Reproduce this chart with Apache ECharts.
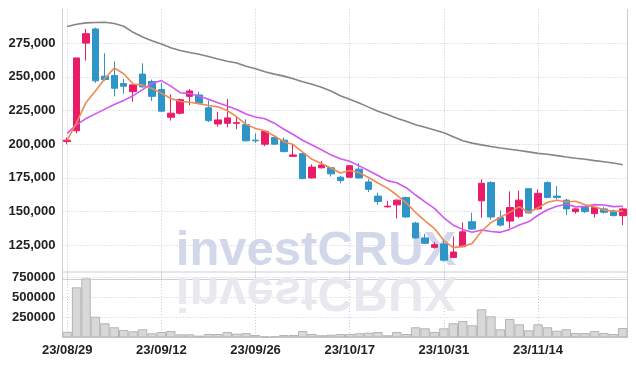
<!DOCTYPE html>
<html><head><meta charset="utf-8">
<script src="https://cdn.jsdelivr.net/npm/echarts@6/dist/echarts.min.js"></script>
<style>html,body{margin:0;padding:0;background:#fff}#c{width:636px;height:366px}</style>
</head><body><div id="c"></div>
<script>
const dates = ['23/08/29','23/08/30','23/08/31','23/09/01','23/09/04','23/09/05','23/09/06','23/09/07','23/09/08','23/09/11',
'23/09/12','23/09/13','23/09/14','23/09/15','23/09/18','23/09/19','23/09/20','23/09/21','23/09/22','23/09/25',
'23/09/26','23/09/27','23/10/04','23/10/05','23/10/06','23/10/10','23/10/11','23/10/12','23/10/13','23/10/16',
'23/10/17','23/10/18','23/10/19','23/10/20','23/10/23','23/10/24','23/10/25','23/10/26','23/10/27','23/10/30',
'23/10/31','23/11/01','23/11/02','23/11/03','23/11/06','23/11/07','23/11/08','23/11/09','23/11/10','23/11/13',
'23/11/14','23/11/15','23/11/16','23/11/17','23/11/20','23/11/21','23/11/22','23/11/23','23/11/24','23/11/27'];
const opens = [202000,210000,275000,285500,250500,251000,245000,239000,252000,246500,
240500,220000,223000,235500,236500,227000,215000,215500,215500,214500,
203000,200000,205000,203000,191000,193000,175000,182500,182500,175500,
175500,181500,172000,161500,153500,155000,160500,141500,130500,123500,
126000,116000,124000,142500,158000,171500,145500,143000,146500,167000,
152000,171500,161500,158500,150000,153500,148500,152000,150500,147000];
const closes = [203000,264000,282000,247000,248000,241500,243000,244000,242500,235500,
224500,223000,233000,239500,230500,217500,218000,219500,216000,202500,
202500,209500,200000,194500,192000,174500,183000,184500,178000,173000,
184000,175000,166500,157500,154000,158500,146000,130500,126500,125500,
114000,120000,135000,137000,171000,146000,140000,153000,158500,149000,
163500,160500,160500,152000,152000,150000,153000,149500,147000,152000];
const lows = [200000,208000,262000,245500,247000,235500,237500,231500,242000,232000,
224000,217500,222000,229000,229500,216500,213000,212500,211000,202000,
201000,198500,199500,194000,190800,174000,174500,182000,176000,171000,
175000,174500,164500,155000,153000,145000,145500,130000,126000,122500,
113000,115500,123500,136500,145500,144000,139000,137500,145000,148500,
151500,160000,159000,147500,148500,149000,145500,148500,146500,140000];
const highs = [205000,264000,285500,286500,267500,261500,248500,244500,260000,248000,
245500,237000,234000,241000,239000,232500,224000,233500,220500,218500,
208000,210000,205500,205000,200000,193500,185000,187500,183000,176500,
184500,186000,174000,164000,158000,159000,161000,142500,133500,127500,
128500,131500,142000,149000,174000,172500,151000,165000,165500,167000,
166500,172500,169000,159500,152500,154000,153500,153500,151500,153000];
const ma5 = [203000,216000,231000,239500,248800,256500,252300,244700,243800,241300,
237900,233900,231700,231100,230100,228700,227700,225000,220300,214700,
211700,210000,206100,201800,199700,194100,188800,185700,182400,178600,
180500,178900,175300,171200,167400,162300,156500,149300,143100,137400,
128500,123300,124200,126300,135400,141800,145800,149400,153700,149300,
152800,156900,158400,157100,157700,155000,153500,151300,150300,150300];
const ma10 = [208000,214500,219000,222500,226000,229500,232500,236000,240500,245000,
247200,243100,238200,237500,235700,233300,230800,228400,225700,222400,
220200,218900,215600,211100,207200,202900,199400,195900,192100,189200,
187300,183900,180500,176800,173000,171400,167700,162300,157200,152400,
145400,139900,136800,134700,136400,135200,134600,136800,140000,142400,
147300,151400,153900,155400,153500,153900,155200,154900,153700,154000];
const ma60 = [287300,289000,290000,290300,290500,289500,287500,283000,279500,276800,
274300,271500,269500,268000,266700,265000,263200,261500,260200,257800,
256000,253700,252000,250500,248500,246400,244500,242200,239500,236000,
233300,230500,227500,224500,222000,219300,217000,214500,212500,210500,
208500,205500,202500,200800,199500,198300,197200,196300,195300,194300,
193200,192500,191500,190500,189600,188800,187800,187000,186000,184800];
const volumes = [72000,628000,740000,260000,178000,128000,94000,78000,103000,53000,
69000,81000,40000,40000,23000,44000,44000,69000,48000,56000,
31000,15000,15000,31000,31000,81000,44000,28000,35000,44000,
44000,53000,60000,69000,28000,69000,44000,128000,115000,69000,
115000,178000,206000,153000,353000,265000,103000,231000,165000,90000,
165000,128000,85000,103000,56000,56000,81000,56000,44000,119000];

const candleData = dates.map((d, i) => [opens[i], closes[i], lows[i], highs[i]]);
const labelFont = {fontFamily: '"Liberation Sans", Arial, sans-serif', fontWeight: 'bold', fontSize: 13, color: '#222'};
const gridLineColor = '#c6c9d8';
const axisLineColor = '#cfcfcf';

const chart = echarts.init(document.getElementById('c'), null, {renderer: 'canvas'});
chart.setOption({
  animation: false,
  backgroundColor: '#fff',
  grid: [
    {left: 62.5, right: 8.5, top: 9.4, height: 269.6, show: false},
    {left: 62.5, right: 8.5, top: 272, height: 65.5, show: true, borderColor: axisLineColor, borderWidth: 1, backgroundColor: 'transparent'}
  ],
  xAxis: [
    {type: 'category', gridIndex: 0, data: dates, position: 'top', boundaryGap: true,
     axisLine: {show: true, lineStyle: {color: axisLineColor}}, axisTick: {show: false}, axisLabel: {show: false},
     splitLine: {show: true, interval: 9, alignWithLabel: true, lineStyle: {color: gridLineColor, type: [1, 2]}}},
    {type: 'category', gridIndex: 1, data: dates, position: 'bottom', boundaryGap: true,
     axisLine: {show: true, lineStyle: {color: axisLineColor}}, axisTick: {show: false},
     axisLabel: Object.assign({interval: 9, margin: 6}, labelFont),
     splitLine: {show: true, interval: 9, alignWithLabel: true, lineStyle: {color: gridLineColor, type: [1, 2]}}}
  ],
  yAxis: [
    {type: 'value', gridIndex: 0, min: 100000, max: 300000, interval: 25000, position: 'left',
     axisLine: {show: true, lineStyle: {color: axisLineColor}}, axisTick: {show: false},
     axisLabel: Object.assign({showMinLabel: false, showMaxLabel: false, margin: 7,
       formatter: v => v.toLocaleString('en-US')}, labelFont),
     splitLine: {show: true, showMinLine: false, showMaxLine: false, lineStyle: {color: gridLineColor, type: [1, 2]}}},
    {type: 'value', gridIndex: 0, min: 0, max: 1, position: 'right',
     axisLine: {show: true, lineStyle: {color: axisLineColor}}, axisTick: {show: false}, axisLabel: {show: false}, splitLine: {show: false}},
    {type: 'value', gridIndex: 1, min: 0, max: 820000, interval: 250000,
     axisLine: {show: false}, axisTick: {show: false},
     axisLabel: Object.assign({showMinLabel: false, showMaxLabel: false, margin: 7,
       formatter: v => String(v)}, labelFont),
     splitLine: {show: true, showMinLine: false, showMaxLine: false, lineStyle: {color: gridLineColor, type: [1, 2]}}}
  ],
  graphic: [
    {type: 'text', x: 316, y: 251, z: 1, silent: true,
     style: {text: 'investCRUX', fill: '#d2d7ea', font: 'bold 49px "Liberation Sans", Arial, sans-serif',
             align: 'center', verticalAlign: 'middle', textAlign: 'center', textVerticalAlign: 'middle'}},
    {type: 'text', x: 316, y: 292, scaleY: -1, z: 1, silent: true,
     style: {text: 'investCRUX', fill: '#e8e8ef', font: 'bold 49px "Liberation Sans", Arial, sans-serif',
             align: 'center', verticalAlign: 'middle', textAlign: 'center', textVerticalAlign: 'middle'}}
  ],
  series: [
    {type: 'candlestick', xAxisIndex: 0, yAxisIndex: 0, data: candleData, barWidth: 7, z: 3,
     itemStyle: {color: '#e81c68', color0: '#2e95c9', borderColor: '#e81c68', borderColor0: '#2e95c9', borderWidth: 1}},
    {type: 'line', xAxisIndex: 0, yAxisIndex: 0, data: ma60, symbol: 'none', z: 4,
     lineStyle: {color: '#858585', width: 1.6}},
    {type: 'line', xAxisIndex: 0, yAxisIndex: 0, data: ma10, symbol: 'none', z: 4,
     lineStyle: {color: '#cf58ef', width: 1.6}},
    {type: 'line', xAxisIndex: 0, yAxisIndex: 0, data: ma5, symbol: 'none', z: 4,
     lineStyle: {color: '#ef8a52', width: 1.6}},
    {type: 'bar', xAxisIndex: 1, yAxisIndex: 2, data: volumes, barCategoryGap: '0%', z: 3,
     itemStyle: {color: '#d8d8d8', borderColor: '#b4b4b4', borderWidth: 1}}
  ]
});
</script>
</body></html>
